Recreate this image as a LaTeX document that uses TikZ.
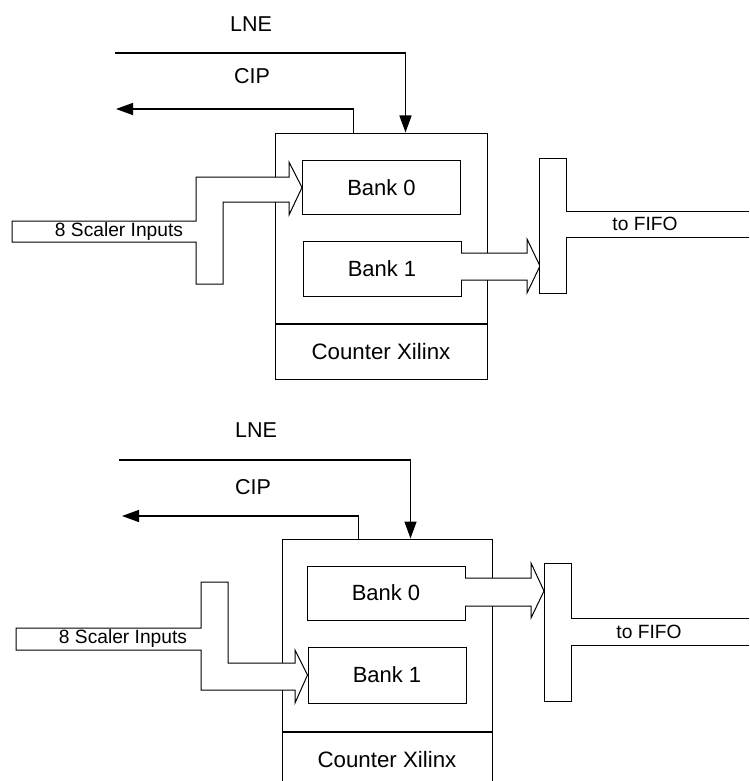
\documentclass[tikz,border=0pt]{standalone}
\usepackage{fontspec}
\setmainfont{Liberation Sans}
\usetikzlibrary{arrows.meta}

\begin{document}
\begin{tikzpicture}[x=1pt, y=-1pt,
    box/.style={draw, line width=1pt, inner sep=0pt},
    bank/.style={box, minimum width=158pt, minimum height=54pt, font=\fontsize{22}{24}\selectfont},
    xil/.style={box, minimum height=55pt, font=\fontsize{22.3}{26}\selectfont},
    bus/.style={draw, fill=white, line width=1pt},
    sig/.style={line width=1.5pt, -{Triangle[length=17pt, width=12pt]}},
    lbl/.style={font=\fontsize{21.5}{24}\selectfont},
    buslbl/.style={font=\fontsize{19.2}{22}\selectfont}]
    \useasboundingbox (0,0) rectangle (749,781);

    % upper board
    \node[box, minimum width=212pt, minimum height=190pt] (ctrA) at (381,228) {};
    \node[xil, minimum width=212pt, anchor=north] (xilA) at (ctrA.south) {Counter Xilinx};
    \node[bank] (bank0A) at (381.5,187.5) {Bank 0};
    \node[bank, minimum height=55pt] (bank1A) at (382,268.5) {Bank 1};

    \draw[bus] (12,221) -- (196,221) -- (196,177) -- (289,177) -- (289,162) -- (bank0A.west) -- (289,215) -- (289,202) -- (223,202) -- (223,284) -- (196,284) -- (196,242) -- (12,242) -- cycle;
    \node[buslbl] (inA) at (119,231.5) {8 Scaler Inputs};

    \draw[bus] (461,253) -- (527,253) -- (527,239) -- (540,266) -- (527,293) -- (527,280) -- (461,280);
    \draw[bus] (749,211) -- (566,211) -- (566,158) -- (539,158) -- (539,293) -- (566,293) -- (566,237) -- (749,237);
    \node[buslbl] (fifoA) at (645,224) {to FIFO};

    \node[lbl] (lneA) at (251,24) {LNE};
    \coordinate (lneinA) at (115,53);
    \draw[sig] (lneinA) -| ([xshift=131pt]ctrA.north west);
    \node[lbl] (cipA) at (252,76) {CIP};
    \coordinate (cipoutA) at (116,109);
    \draw[sig] ([xshift=79pt]ctrA.north west) |- (cipoutA);

    % lower board
    \node[box, minimum width=210pt, minimum height=192pt] (ctrB) at (387,635) {};
    \node[xil, minimum width=210pt, anchor=north] (xilB) at (ctrB.south) {Counter Xilinx};
    \node[bank] (bank0B) at (386,593) {Bank 0};
    \node[bank, minimum height=56pt] (bank1B) at (387,675) {Bank 1};

    \draw[bus] (16,628) -- (201,628) -- (201,582) -- (228,582) -- (228,663) -- (295,663) -- (295,650) -- (bank1B.west) -- (295,703) -- (295,690) -- (201,690) -- (201,650) -- (16,650) -- cycle;
    \node[buslbl] (inB) at (123,639) {8 Scaler Inputs};

    \draw[bus] (465,578) -- (531,578) -- (531,563) -- (544,591) -- (531,618) -- (531,606) -- (465,606);
    \draw[bus] (749,618) -- (571,618) -- (571,563) -- (544,563) -- (544,701) -- (571,701) -- (571,645) -- (749,645);
    \node[buslbl] (fifoB) at (649,631.5) {to FIFO};

    \node[lbl] (lneB) at (256,430) {LNE};
    \coordinate (lneinB) at (119,460);
    \draw[sig] (lneinB) -| ([xshift=129pt]ctrB.north west);
    \node[lbl] (cipB) at (253,487) {CIP};
    \coordinate (cipoutB) at (122,516);
    \draw[sig] ([xshift=77pt]ctrB.north west) |- (cipoutB);
\end{tikzpicture}
\end{document}
